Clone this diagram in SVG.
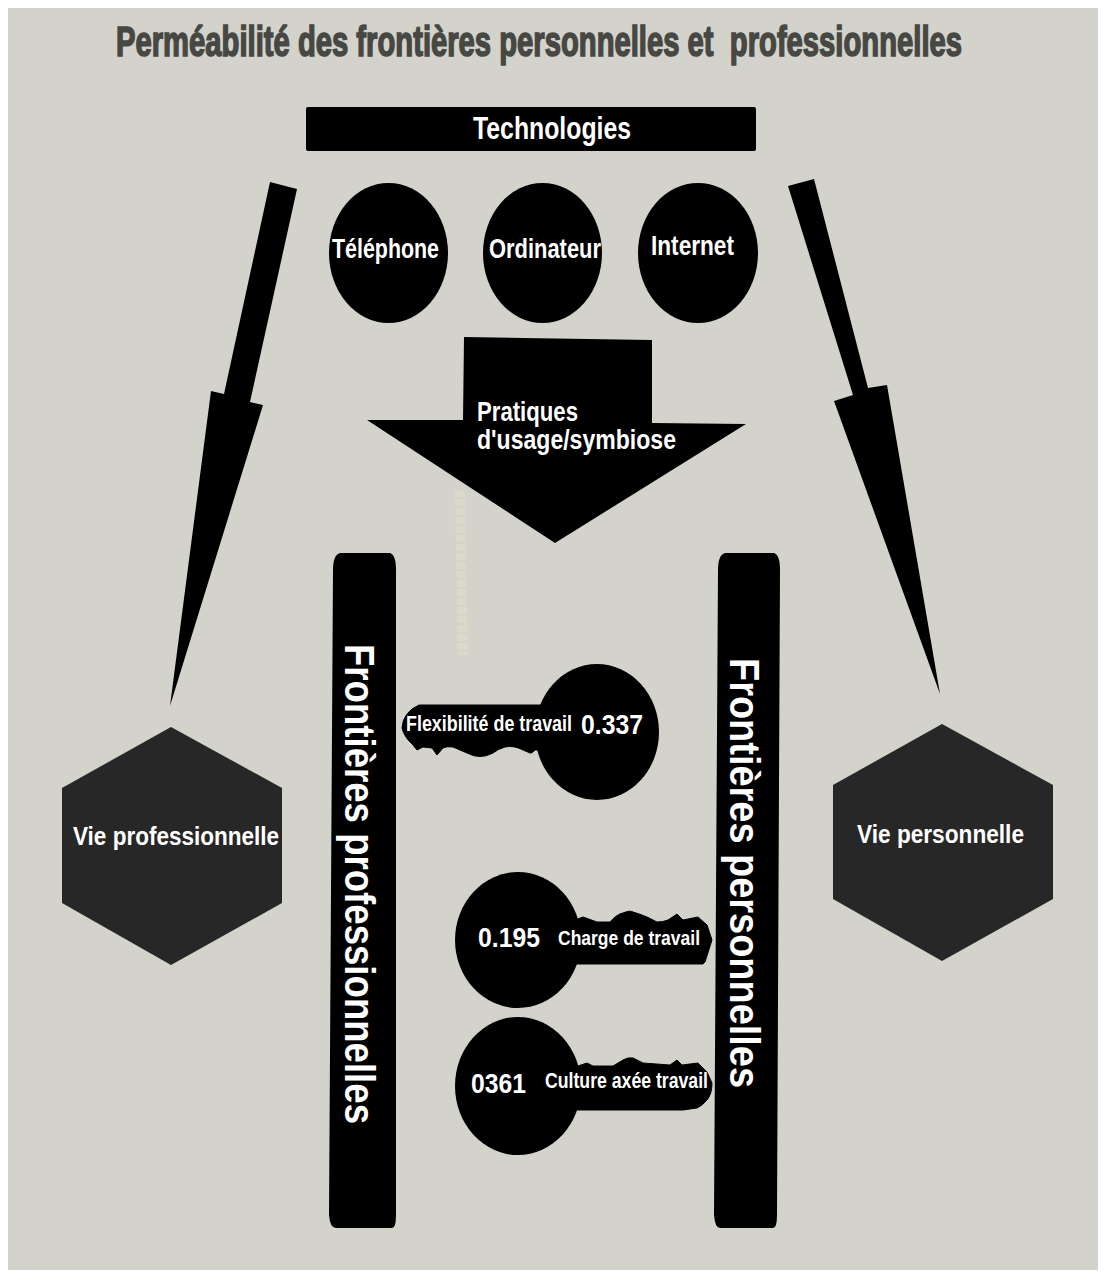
<svg xmlns="http://www.w3.org/2000/svg" width="1106" height="1279" viewBox="0 0 1106 1279">
<style>
text{font-family:"Liberation Sans",Arial,sans-serif;font-weight:700;fill:#fff}
.k{fill:#000}
.soft{fill:#000;stroke:#000;stroke-width:1;stroke-linejoin:round}
.hex{fill:#272727}
.title{fill:#474743;stroke:#474743;stroke-width:1.6;font-size:42px}
</style>
<rect width="1106" height="1279" fill="#fff"/>
<rect x="8" y="8" width="1090" height="1262" fill="#d3d3cb"/>
<text class="title" x="116" y="56" textLength="846" lengthAdjust="spacingAndGlyphs">Perméabilité des frontières personnelles et &#160;professionnelles</text>
<path d="M460 490L463 655" fill="none" stroke="#dcdbc9" stroke-width="10" stroke-dasharray="7 2" opacity=".75"/>
<g id="connectors">
<path class="k" d="M270 182L297 189L250 402L263 405L170 706L211 391L224 394Z"/>
<path class="k" d="M788 186L814 179L868 388L887 385L940 694L834 401L853 395Z"/>
</g>
<g id="technologies">
<rect class="k" x="306" y="107" width="450" height="44" rx="2"/>
<text x="473" y="139" font-size="32" textLength="158" lengthAdjust="spacingAndGlyphs">Technologies</text>
</g>
<g id="telephone">
<ellipse class="k" cx="388.500" cy="253" rx="59.500" ry="70"/>
<text x="332" y="258" font-size="28" textLength="107" lengthAdjust="spacingAndGlyphs">Téléphone</text>
</g>
<g id="ordinateur">
<ellipse class="k" cx="542.500" cy="253" rx="59.500" ry="70"/>
<text x="489" y="258" font-size="28" textLength="112" lengthAdjust="spacingAndGlyphs">Ordinateur</text>
</g>
<g id="internet">
<ellipse class="k" cx="698" cy="253" rx="60" ry="70"/>
<text x="651" y="255" font-size="28" textLength="83" lengthAdjust="spacingAndGlyphs">Internet</text>
</g>
<g id="pratiques">
<path class="k" d="M464 337L652 340V423L746 424L555 543L367 420H463Z"/>
<text x="477" y="421" font-size="28" textLength="101" lengthAdjust="spacingAndGlyphs">Pratiques</text>
<text x="477" y="449" font-size="28" textLength="199" lengthAdjust="spacingAndGlyphs">d'usage/symbiose</text>
</g>
<g id="frontieres-pro">
<path class="k" d="M340 553H390Q396 555 396 570L396 1215Q396 1228 392 1228H336Q330 1228 329 1215L333 570Q333 555 340 553Z"/>
<text transform="translate(345 644) rotate(90)" font-size="42" textLength="480" lengthAdjust="spacingAndGlyphs">Frontières professionnelles</text>
</g>
<g id="frontieres-perso">
<path class="k" d="M725 553H774Q780 555 780 570L777 1215Q777 1228 773 1228H720Q715 1228 714 1215L718 570Q718 555 725 553Z"/>
<text transform="translate(730 658) rotate(90)" font-size="42" textLength="430" lengthAdjust="spacingAndGlyphs">Frontières personnelles</text>
</g>
<g id="vie-pro">
<path class="hex" d="M171 727L282 788V903L171 965L62 903V788Z"/>
<text x="73" y="845" font-size="26" textLength="206" lengthAdjust="spacingAndGlyphs">Vie professionnelle</text>
</g>
<g id="vie-perso">
<path class="hex" d="M942 724L1053 785V899L942 961L833 899V785Z"/>
<text x="857" y="843" font-size="26" textLength="167" lengthAdjust="spacingAndGlyphs">Vie personnelle</text>
</g>
<g id="key-flexibilite">
<ellipse class="k" cx="597" cy="732" rx="62" ry="68"/>
<path class="soft" d="M419 705H545V750L535 750Q532 754 530 753L523 750Q514 745 505 747Q498 749 493 753Q480 760 467 753L453 747Q447 746 443 748L437 755L432 748L423 747L417 750L413 745Q404 737 402 728Q403 712 419 705Z"/>
<text x="406" y="731" font-size="22" textLength="166" lengthAdjust="spacingAndGlyphs">Flexibilité de travail</text>
<text x="581" y="734" font-size="28" textLength="62" lengthAdjust="spacingAndGlyphs">0.337</text>
</g>
<g id="key-charge">
<ellipse class="k" cx="518" cy="940" rx="63" ry="68"/>
<path class="soft" d="M575 920L583 917L597 922H610Q617 914 623 913Q630 910 633 912Q640 914 647 917L657 922Q663 922 668 920L677 914L683 920L698 917L707 925L712 940L705 962L703 964H570Z"/>
<text x="558" y="945" font-size="21" textLength="142" lengthAdjust="spacingAndGlyphs">Charge de travail</text>
<text x="478" y="947" font-size="28" textLength="62" lengthAdjust="spacingAndGlyphs">0.195</text>
</g>
<g id="key-culture">
<ellipse class="k" cx="518" cy="1086" rx="63" ry="69"/>
<path class="soft" d="M575 1067L587 1063L593 1066H613Q618 1063 623 1060Q628 1057 633 1058L643 1063L670 1065L677 1060L682 1065L698 1063L707 1072L712 1083Q712 1094 707 1100Q702 1106 697 1108L683 1110H570Z"/>
<text x="545" y="1088" font-size="22" textLength="163" lengthAdjust="spacingAndGlyphs">Culture axée travail</text>
<text x="471" y="1093" font-size="28" textLength="55" lengthAdjust="spacingAndGlyphs">0361</text>
</g>
</svg>
